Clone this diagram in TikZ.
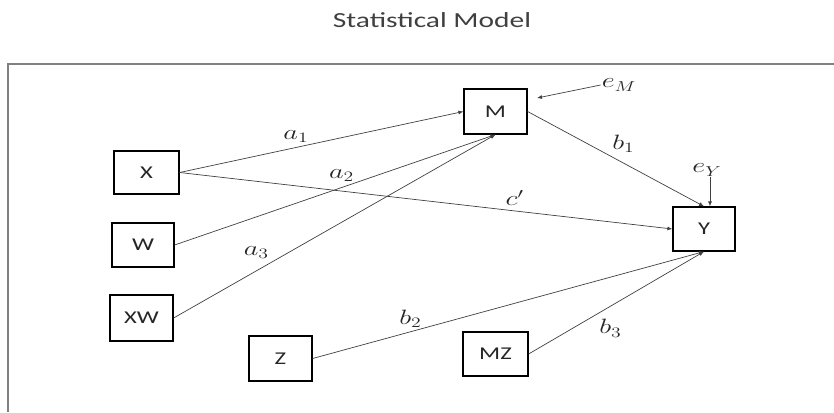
\documentclass[tikz,border=0pt]{standalone}
\usepackage{fontspec}
\setmainfont[FakeStretch=1.37]{Carlito}
\usetikzlibrary{arrows.meta,positioning}
\definecolor{smline}{HTML}{404040}
\definecolor{smframe}{HTML}{808080}
\definecolor{smtext}{HTML}{262626}
% math labels get the same horizontal stretch as the text font
\newcommand{\wmath}[1]{\scalebox{1.37}[1]{$#1$}}

\begin{document}
\begin{tikzpicture}[x=1pt, y=-1pt,
  var/.style={draw=black, line width=1.2pt, minimum width=63pt,
              minimum height=44pt, inner sep=0pt, text=smtext,
              font=\fontsize{18}{20}\selectfont},
  link/.style={-{Latex[length=5pt,width=4pt]}, line width=0.7pt, color=smline},
  coef/.style={font=\fontsize{20}{22}\selectfont, inner sep=1pt, text=smtext},
]
  \useasboundingbox (0,0) rectangle (834,412);

  % title and outer frame
  \node[text=smline, font=\fontsize{21.5}{24}\selectfont] (title) at (432,20) {Statistical Model};
  \draw[smframe, line width=2pt] (834,64) -- (8,64) -- (8,412);

  % variables
  \node[var, minimum width=65pt, minimum height=43pt] (X) at (146.5,172.5) {X};
  \node[var, minimum width=62pt] (W) at (143,245) {W};
  \node[var, minimum height=46pt] (XW) at (141.5,318) {XW};
  \node[var, minimum height=45pt] (M) at (495.5,111.5) {M};
  \node[var, minimum width=62pt] (Y) at (704,229) {Y};
  \node[var, minimum height=45pt] (Z) at (280.5,358.5) {Z};
  \node[var, minimum width=65pt] (MZ) at (495.5,354) {MZ};

  % error terms
  \node[coef] (eM) at (619,85) {\wmath{e_M}};
  \node[coef] (eY) at (707,170) {\wmath{e_Y}};
  \coordinate (mhook) at (537,98);

  % paths
  \draw[link] (X.east) -- node[coef, pos=0.41, above=4pt] {\wmath{a_1}} (M.west);
  \draw[link] (W.east) -- node[coef, pos=0.52, above=5pt] {\wmath{a_2}} (M.south);
  \draw[link] (XW.east) -- node[coef, pos=0.3, above left=3pt and 0pt] {\wmath{a_3}} (M.south);
  \draw[link] (X.east) -- node[coef, pos=0.68, above=4pt] {\wmath{c'}} (Y.west);
  \draw[link] (M.east) -- node[coef, pos=0.45, above right=0pt and 4pt] {\wmath{b_1}} (Y.north);
  \draw[link] (Z.east) -- node[coef, pos=0.25, above=3pt] {\wmath{b_2}} (Y.south);
  \draw[link] (MZ.east) -- node[coef, pos=0.35, below right=0pt and 8pt] {\wmath{b_3}} (Y.south);
  \draw[link] (eM.west) -- (mhook);
  \draw[link] ([xshift=3pt]eY.south) -- ([xshift=3pt]eY.south |- Y.north);
\end{tikzpicture}
\end{document}
